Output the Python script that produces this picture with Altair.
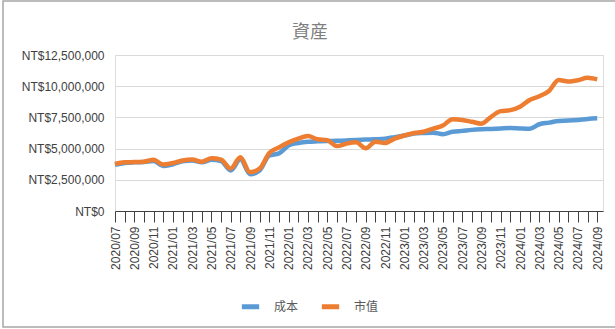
import altair as alt
import pandas as pd

months = []
y, m = 2020, 7
for _ in range(51):
    months.append(f"{y}/{m:02d}")
    m += 1
    if m > 12:
        m = 1
        y += 1

cost = [3.70, 3.85, 3.90, 3.92, 4.00, 3.60, 3.75, 3.98, 4.05, 3.90,
        4.10, 4.00, 3.25, 4.15, 2.95, 3.25, 4.45, 4.62, 5.25, 5.45,
        5.55, 5.58, 5.60, 5.62, 5.65, 5.68, 5.72, 5.75, 5.80, 5.92,
        6.05, 6.20, 6.25, 6.28, 6.15, 6.35, 6.42, 6.50, 6.55, 6.58,
        6.62, 6.65, 6.62, 6.60, 6.95, 7.08, 7.22, 7.25, 7.30, 7.38,
        7.43]
market = [3.77, 3.90, 3.92, 3.95, 4.10, 3.72, 3.85, 4.05, 4.12, 3.95,
          4.22, 4.12, 3.40, 4.30, 3.10, 3.40, 4.65, 5.10, 5.50, 5.80,
          6.00, 5.75, 5.68, 5.20, 5.40, 5.50, 5.02, 5.55, 5.45, 5.80,
          6.05, 6.25, 6.35, 6.60, 6.85, 7.35, 7.30, 7.15, 7.00, 7.55,
          8.00, 8.08, 8.36, 8.90, 9.20, 9.62, 10.50, 10.38, 10.48, 10.68,
          10.55]
series_names = ["成本", "市值"]
colors = ["#5B9BD5", "#ED7D31"]
y_ticks = [0, 2500000, 5000000, 7500000, 10000000, 12500000]
title_text = "資産"

rows = []
for name, vals in zip(series_names, [cost, market]):
    for i, v in enumerate(vals):
        rows.append({"idx": i, "month": months[i], "value": v * 1e6, "series": name})
df = pd.DataFrame(rows)

label_arr = "[" + ",".join(f"'{s}'" for s in months) + "]"
x_label_expr = f"datum.value % 2 == 0 ? {label_arr}[datum.value] : ''"

FONT = "Liberation Sans"
CJK = "Noto Sans CJK TC"

lines = alt.Chart(df).mark_line(strokeWidth=4.5, interpolate="monotone").encode(
    x=alt.X("idx:Q",
            scale=alt.Scale(domain=[0, 50.6], nice=False, zero=False),
            axis=alt.Axis(values=list(range(51)), labelExpr=x_label_expr,
                          labelAngle=-90, labelAlign="right", labelBaseline="middle",
                          labelOverlap=False, labelFontSize=12, labelFont=FONT,
                          labelColor="#404040", labelPadding=4,
                          tickSize=11, tickColor="#404040", tickWidth=1,
                          domainColor="#404040", domainWidth=1, grid=False,
                          title=None)),
    y=alt.Y("value:Q",
            scale=alt.Scale(domain=[0, 12500000], nice=False),
            axis=alt.Axis(values=y_ticks,
                          labelExpr="'NT$' + format(datum.value, ',')",
                          labelFontSize=12, labelFont=FONT, labelColor="#404040",
                          labelPadding=11, ticks=False, domain=False,
                          gridColor="#d9d9d9", gridWidth=1, title=None)),
    color=alt.Color("series:N",
                    scale=alt.Scale(domain=series_names, range=colors),
                    sort=series_names,
                    legend=alt.Legend(title=None, orient="none", direction="horizontal",
                                      legendX=124, legendY=240,
                                      symbolType="stroke", symbolStrokeWidth=5,
                                      symbolSize=300, labelFont=CJK, labelFontSize=12,
                                      labelColor="#595959", columnPadding=12,
                                      labelOffset=12)),
    order=alt.Order("idx:Q"),
)

frame = alt.Chart(pd.DataFrame({"a": [0]})).mark_rect(
    fill=None, stroke="#a6a6a6", strokeWidth=1.5
).encode(
    x=alt.value(-112), x2=alt.value(560), y=alt.value(-54), y2=alt.value(272)
)

title = alt.Chart(pd.DataFrame({"t": [title_text]})).mark_text(
    font=CJK, fontSize=18, color="#7f7f7f", align="center", baseline="middle"
).encode(text="t:N", x=alt.value(195), y=alt.value(-22))

chart = alt.layer(frame, lines, title).properties(
    width=488, height=156,
    autosize=alt.AutoSizeParams(type="none"),
    padding={"left": 115, "top": 55, "right": 12, "bottom": 118},
).configure_view(stroke=None).configure(background="white")

chart.save("out.html", embed_options={"renderer": "svg", "actions": False})
